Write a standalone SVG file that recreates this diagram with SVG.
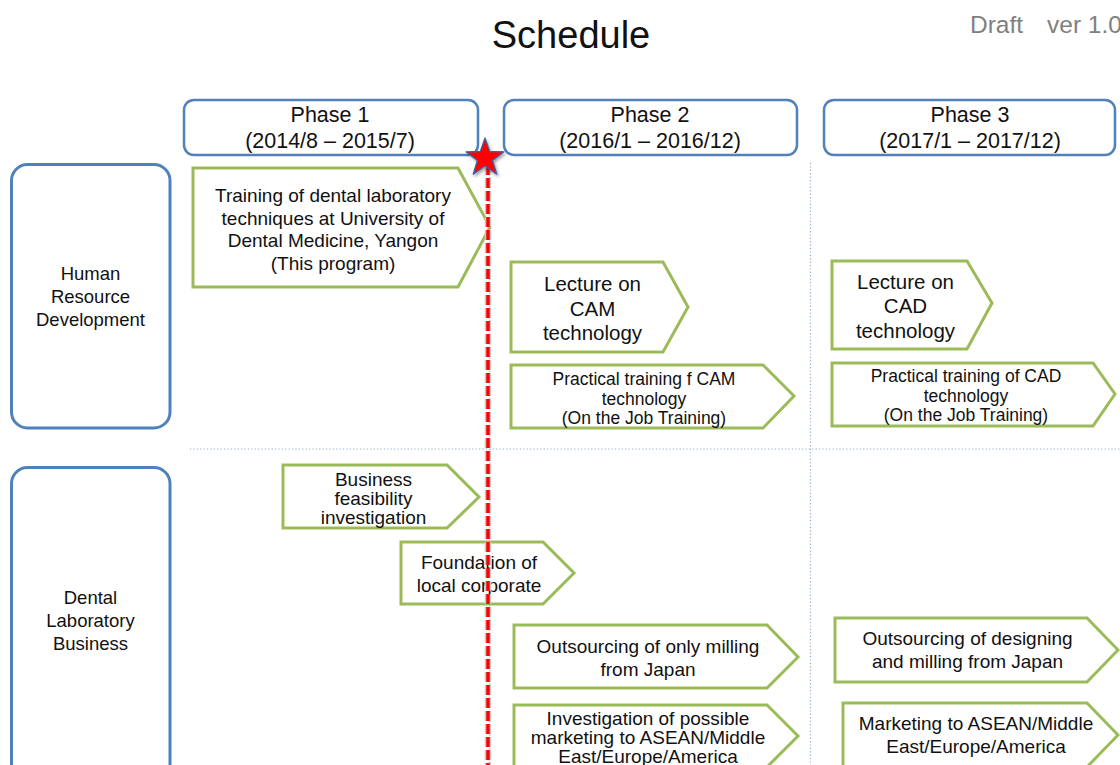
<svg xmlns="http://www.w3.org/2000/svg" width="1120" height="765" viewBox="0 0 1120 765">
  <style>
    text { font-family: "Liberation Sans", Arial, sans-serif; fill: #111; text-anchor: middle; }
    .title { font-size: 38px; }
    .draft { font-size: 24.5px; fill: #808080; text-anchor: start; }
    .phase rect { fill: #fff; stroke: #4F81BD; stroke-width: 2.5; }
    .phase text { font-size: 21.5px; }
    .row rect { fill: #fff; stroke: #4F81BD; stroke-width: 3; }
    .row text { font-size: 18.5px; }
    .task polygon { fill: #fff; stroke: #9BBB59; stroke-width: 3; stroke-linejoin: miter; }
    .task text { font-size: 19px; }
    .task text.big { font-size: 20.5px; }
    .task text.small { font-size: 17.5px; }
    .grid line { stroke: #93AACB; stroke-width: 1.2; stroke-dasharray: 1.2 2.2; }
  </style>
  <defs>
    <filter id="shadow" x="-30%" y="-30%" width="160%" height="160%">
      <feDropShadow dx="1.5" dy="2" stdDeviation="1.5" flood-color="#000" flood-opacity="0.35"/>
    </filter>
  </defs>

  <rect width="1120" height="765" fill="#fff"/>

  <!-- heading -->
  <text class="title" x="571" y="48">Schedule</text>
  <text class="draft" x="970" y="33">Draft</text>
  <text class="draft" x="1047" y="33">ver 1.0</text>

  <!-- dotted grid separating rows and phases -->
  <g id="grid" class="grid">
    <line x1="190" y1="449" x2="1120" y2="449"/>
    <line x1="810.5" y1="163" x2="810.5" y2="765"/>
    <line x1="490" y1="160" x2="490" y2="765"/>
  </g>

  <!-- phase headers -->
  <g id="phase1" class="phase">
    <rect x="184" y="100" width="294" height="55" rx="10"/>
    <text x="330" y="122">Phase 1</text>
    <text x="330" y="148">(2014/8 – 2015/7)</text>
  </g>
  <g id="phase2" class="phase">
    <rect x="504" y="100" width="293" height="55" rx="10"/>
    <text x="650" y="122">Phase 2</text>
    <text x="650" y="148">(2016/1 – 2016/12)</text>
  </g>
  <g id="phase3" class="phase">
    <rect x="824" y="100" width="291" height="55" rx="10"/>
    <text x="970" y="122">Phase 3</text>
    <text x="970" y="148">(2017/1 – 2017/12)</text>
  </g>

  <!-- row headers -->
  <g id="row-hrd" class="row">
    <rect x="11.5" y="164.5" width="158.5" height="263.5" rx="16"/>
    <text x="90.5" y="280">Human</text>
    <text x="90.5" y="303">Resource</text>
    <text x="90.5" y="326">Development</text>
  </g>
  <g id="row-dlb" class="row">
    <rect x="11.5" y="467.5" width="158.5" height="330" rx="16"/>
    <text x="90.5" y="604">Dental</text>
    <text x="90.5" y="627">Laboratory</text>
    <text x="90.5" y="650">Business</text>
  </g>

  <!-- tasks: Human Resource Development -->
  <g id="task-training" class="task">
    <polygon points="193,168 458,168 490,227 458,287 193,287"/>
    <text x="333" y="202">Training of dental laboratory</text>
    <text x="333" y="224.5">techniques at University of</text>
    <text x="333" y="247">Dental Medicine, Yangon</text>
    <text x="333" y="269.5">(This program)</text>
  </g>
  <g id="task-lecture-cam" class="task">
    <polygon points="511,262 663,262 688,307 663,352 511,352"/>
    <text class="big" x="592.5" y="291">Lecture on</text>
    <text class="big" x="592.5" y="315.5">CAM</text>
    <text class="big" x="592.5" y="340">technology</text>
  </g>
  <g id="task-practical-cam" class="task">
    <polygon points="511,365 763,365 794,396 763,428 511,428"/>
    <text class="small" x="644" y="385">Practical training f CAM</text>
    <text class="small" x="644" y="404.5">technology</text>
    <text class="small" x="644" y="424">(On the Job Training)</text>
  </g>
  <g id="task-lecture-cad" class="task">
    <polygon points="832,261 967,261 992,303 967,349 832,349"/>
    <text class="big" x="905.5" y="288.5">Lecture on</text>
    <text class="big" x="905.5" y="313">CAD</text>
    <text class="big" x="905.5" y="337.5">technology</text>
  </g>
  <g id="task-practical-cad" class="task">
    <polygon points="832,363 1093,363 1115,394 1093,426 832,426"/>
    <text class="small" x="966" y="382">Practical training of CAD</text>
    <text class="small" x="966" y="401.5">technology</text>
    <text class="small" x="966" y="421">(On the Job Training)</text>
  </g>

  <!-- tasks: Dental Laboratory Business -->
  <g id="task-feasibility" class="task">
    <polygon points="283,465 447,465 479,497 447,528 283,528"/>
    <text x="373.5" y="486">Business</text>
    <text x="373.5" y="505">feasibility</text>
    <text x="373.5" y="524">investigation</text>
  </g>
  <g id="task-foundation" class="task">
    <polygon points="401,542 543,542 574,573 543,604 401,604"/>
    <text x="479" y="569">Foundation of</text>
    <text x="479" y="591.5">local corporate</text>
  </g>
  <g id="task-outsourcing-milling" class="task">
    <polygon points="514,625 767,625 798,657 767,688 514,688"/>
    <text x="648" y="653">Outsourcing of only milling</text>
    <text x="648" y="675.5">from Japan</text>
  </g>
  <g id="task-investigation" class="task">
    <polygon points="514,705 767,705 798,736 767,767 514,767"/>
    <text x="648" y="725">Investigation of possible</text>
    <text x="648" y="744">marketing to ASEAN/Middle</text>
    <text x="648" y="763">East/Europe/America</text>
  </g>
  <g id="task-outsourcing-design" class="task">
    <polygon points="835,618 1087,618 1118,650 1087,682 835,682"/>
    <text x="967.5" y="645">Outsourcing of designing</text>
    <text x="967.5" y="668">and milling from Japan</text>
  </g>
  <g id="task-marketing" class="task">
    <polygon points="843,703 1087,703 1118,735 1087,767 843,767"/>
    <text x="976" y="730">Marketing to ASEAN/Middle</text>
    <text x="976" y="752.5">East/Europe/America</text>
  </g>

  <!-- current-date milestone: dashed red line topped by a star -->
  <g id="connectors">
    <line x1="488" y1="165" x2="488" y2="765" stroke="#c8c8c8" stroke-width="6.5" stroke-dasharray="10 3"/>
    <line x1="488" y1="165" x2="488" y2="765" stroke="#FF0000" stroke-width="3.5" stroke-dasharray="10 3"/>
  </g>
  <g id="milestone-star">
    <polygon points="485,138 489.7,151.5 504,151.8 492.6,160.5 496.8,174.2 485,166 473.2,174.2 477.4,160.5 466,151.8 480.3,151.5" fill="#FF0000" stroke="#3A64A8" stroke-width="1.3" stroke-linejoin="round" filter="url(#shadow)"/>
  </g>
</svg>
